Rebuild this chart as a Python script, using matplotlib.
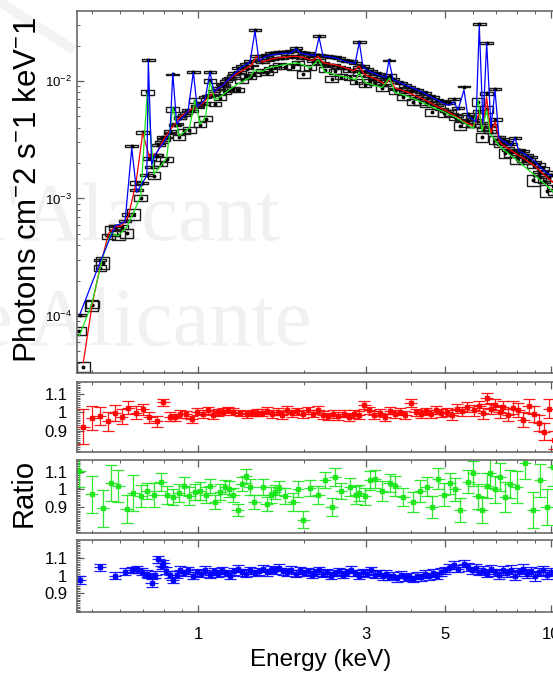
#!/usr/bin/env python3
"""Unfolded spectrum (three instruments) with model curves, plus data/model ratio panels."""
import numpy as np
import matplotlib
matplotlib.use("Agg")
import matplotlib.pyplot as plt
from matplotlib.patches import Rectangle
from matplotlib.collections import PatchCollection
from matplotlib.lines import Line2D
from matplotlib.ticker import FixedLocator, LogLocator, MultipleLocator, NullFormatter

# ---- red spectrum: energy (keV), model flux, data/model ratio, ratio error ----
E_red = [0.473, 0.502, 0.528, 0.557, 0.582, 0.608, 0.635, 0.667, 0.697, 0.728,
         0.764, 0.798, 0.833, 0.861, 0.889, 0.925, 0.960, 0.995, 1.035, 1.069,
         1.101, 1.142, 1.179, 1.218, 1.259, 1.315, 1.374, 1.419, 1.466, 1.52,
         1.57, 1.62, 1.68, 1.73, 1.79, 1.85, 1.91, 1.98, 2.05, 2.12,
         2.19, 2.26, 2.34, 2.42, 2.50, 2.59, 2.68, 2.77, 2.86, 2.96,
         3.06, 3.16, 3.27, 3.38, 3.50, 3.62, 3.74, 3.87, 4.00, 4.14,
         4.28, 4.42, 4.57, 4.73, 4.89, 5.06, 5.23, 5.41, 5.59, 5.78,
         6.05, 6.27, 6.42, 6.57, 6.75, 6.95, 7.15, 7.31, 7.56, 7.82,
         8.09, 8.36, 8.65, 8.94, 9.25, 9.56, 9.89, 10.2, 10.6]
M_red = [4.0e-5, 1.29e-4, 2.62e-4, 5.0e-4, 5.72e-4, 5.84e-4, 7.1e-4, 1.35e-3, 3.61e-3, 2.26e-3,
         2.44e-3, 3.15e-3, 3.83e-3, 4.30e-3, 4.94e-3, 5.35e-3, 5.77e-3, 6.01e-3, 6.5e-3, 7.31e-3,
         7.75e-3, 8.63e-3, 9.25e-3, 1.02e-2, 1.10e-2, 1.19e-2, 1.29e-2, 1.36e-2, 1.63e-2, 1.45e-2,
         1.49e-2, 1.54e-2, 1.57e-2, 1.59e-2, 1.60e-2, 1.62e-2, 1.62e-2, 1.59e-2, 1.54e-2, 1.49e-2,
         1.63e-2, 1.43e-2, 1.40e-2, 1.38e-2, 1.35e-2, 1.31e-2, 1.26e-2, 1.22e-2, 1.34e-2, 1.14e-2,
         1.09e-2, 1.05e-2, 1.00e-2, 9.43e-3, 1.02e-2, 8.69e-3, 8.45e-3, 8.13e-3, 7.83e-3, 7.45e-3,
         7.17e-3, 6.82e-3, 6.50e-3, 6.13e-3, 5.84e-3, 5.56e-3, 5.25e-3, 4.94e-3, 4.62e-3, 4.39e-3,
         4.14e-3, 5.35e-3, 3.90e-3, 7.31e-3, 3.61e-3, 4.5e-3, 3.03e-3, 2.85e-3, 2.67e-3, 2.49e-3,
         2.33e-3, 2.20e-3, 2.04e-3, 1.91e-3, 1.75e-3, 1.59e-3, 1.46e-3, 1.35e-3, 1.25e-3]
R_red = [0.921, 0.967, 0.98, 0.95, 0.995, 0.976, 1.025, 0.998, 1.016, 0.973,
         0.95, 1.055, 0.976, 0.973, 0.99, 0.989, 0.962, 1.003, 0.99, 1.01,
         0.985, 1.0, 1.003, 1.013, 1.003, 0.995, 0.989, 0.995, 0.998, 0.998,
         1.008, 0.99, 1.004, 0.985, 1.012, 0.995, 1.006, 0.99, 1.01, 0.992,
         1.015, 0.985, 0.978, 0.99, 0.98, 0.992, 0.975, 0.99, 0.985, 1.04,
         1.01, 0.985, 0.998, 0.972, 1.008, 0.99, 1.003, 0.985, 1.05, 1.0,
         0.99, 1.006, 0.992, 1.012, 0.995, 1.004, 0.985, 1.02, 1.005, 1.03,
         1.01, 1.035, 0.995, 1.076, 1.02, 1.04, 1.0, 1.03, 0.985, 1.025,
         1.01, 0.96, 1.035, 0.99, 0.94, 0.894, 1.02, 0.85, 0.97]
S_red = [0.095, 0.065, 0.05, 0.05, 0.045, 0.04, 0.035, 0.035, 0.03, 0.03,
         0.03, 0.02, 0.025, 0.02, 0.02, 0.02, 0.02, 0.02, 0.02, 0.02,
         0.02, 0.02, 0.018, 0.018, 0.018, 0.018, 0.018, 0.018, 0.018, 0.02,
         0.02, 0.02, 0.02, 0.02, 0.02, 0.02, 0.02, 0.02, 0.02, 0.02,
         0.02, 0.02, 0.02, 0.02, 0.02, 0.02, 0.02, 0.02, 0.02, 0.02,
         0.02, 0.02, 0.02, 0.02, 0.02, 0.02, 0.02, 0.02, 0.02, 0.02,
         0.02, 0.02, 0.022, 0.022, 0.022, 0.022, 0.025, 0.025, 0.025, 0.028,
         0.028, 0.028, 0.03, 0.03, 0.03, 0.03, 0.032, 0.032, 0.035, 0.035,
         0.038, 0.04, 0.04, 0.042, 0.045, 0.045, 0.05, 0.05, 0.055]

# ---- green spectrum ----
E_green = [0.461, 0.500, 0.537, 0.567, 0.594, 0.628, 0.656, 0.688, 0.718, 0.750,
           0.784, 0.815, 0.848, 0.884, 0.913, 0.945, 0.981, 1.013, 1.051, 1.081,
           1.117, 1.154, 1.193, 1.227, 1.259, 1.296, 1.330, 1.368, 1.404, 1.444,
           1.525, 1.565, 1.607, 1.652, 1.699, 1.764, 1.862, 1.920, 1.988, 2.077,
           2.194, 2.290, 2.392, 2.444, 2.542, 2.696, 2.803, 2.858, 2.972, 3.073,
           3.173, 3.321, 3.488, 3.615, 3.816, 4.073, 4.255, 4.445, 4.592, 4.794,
           4.977, 5.176, 5.346, 5.524, 5.833, 6.026, 6.213, 6.377, 6.575, 6.718,
           6.941, 7.171, 7.409, 7.655, 7.996, 8.441, 8.911, 9.308, 9.723, 10.13]
M_green = [6.78e-5, 1.27e-4, 3.18e-4, 5.10e-4, 4.80e-4, 5.72e-4, 7.53e-4, 1.05e-3, 8.05e-3, 1.62e-3,
           1.89e-3, 2.22e-3, 6.01e-3, 3.40e-3, 3.68e-3, 3.98e-3, 6.89e-3, 4.30e-3, 4.94e-3, 9.8e-3,
           6.89e-3, 7.31e-3, 7.90e-3, 8.46e-3, 8.89e-3, 9.43e-3, 9.8e-3, 1.03e-2, 1.07e-2, 1.24e-2,
           1.20e-2, 1.28e-2, 1.30e-2, 1.33e-2, 1.35e-2, 1.38e-2, 1.42e-2, 1.42e-2, 1.37e-2, 1.29e-2,
           1.51e-2, 1.19e-2, 1.16e-2, 1.13e-2, 1.10e-2, 1.06e-2, 1.02e-2, 1.19e-2, 9.71e-3, 9.43e-3,
           9.15e-3, 8.80e-3, 1.06e-2, 7.98e-3, 7.60e-3, 7.10e-3, 6.68e-3, 6.30e-3, 6.01e-3, 5.72e-3,
           5.45e-3, 5.14e-3, 4.94e-3, 4.66e-3, 4.18e-3, 3.94e-3, 6.89e-3, 3.76e-3, 5.66e-3, 3.55e-3,
           3.15e-3, 2.76e-3, 2.54e-3, 2.35e-3, 2.13e-3, 1.85e-3, 1.62e-3, 1.44e-3, 1.29e-3, 1.14e-3]
R_green = [1.103, 0.972, 0.893, 1.037, 1.019, 0.888, 0.978, 0.962, 0.992, 0.968,
           1.043, 0.97, 0.958, 0.978, 1.019, 0.962, 0.987, 0.989, 0.97, 1.02,
           0.93, 0.987, 1.015, 1.0, 0.966, 0.884, 1.03, 1.076, 1.011, 0.93,
           1.015, 0.917, 0.968, 0.987, 1.006, 0.96, 0.93, 1.0, 0.83, 1.006,
           0.97, 1.05, 0.9, 1.07, 0.99, 1.015, 0.97, 0.98, 0.96, 1.05,
           1.06, 0.99, 1.034, 1.02, 0.958, 0.93, 0.99, 1.015, 0.9, 1.06,
           0.97, 1.034, 1.0, 0.884, 1.043, 1.09, 0.96, 0.884, 1.02, 1.09,
           1.0, 1.07, 0.958, 1.03, 1.015, 1.146, 0.884, 1.05, 0.9, 1.127]
S_green = [0.09, 0.105, 0.105, 0.1, 0.09, 0.08, 0.1, 0.06, 0.045, 0.065,
           0.05, 0.05, 0.045, 0.05, 0.05, 0.05, 0.045, 0.05, 0.045, 0.04,
           0.04, 0.045, 0.04, 0.045, 0.04, 0.035, 0.04, 0.04, 0.045, 0.04,
           0.045, 0.04, 0.045, 0.04, 0.04, 0.045, 0.05, 0.045, 0.05, 0.045,
           0.05, 0.045, 0.05, 0.05, 0.045, 0.05, 0.05, 0.045, 0.05, 0.055,
           0.05, 0.055, 0.05, 0.055, 0.05, 0.055, 0.06, 0.055, 0.06, 0.06,
           0.065, 0.06, 0.065, 0.07, 0.065, 0.07, 0.07, 0.075, 0.07, 0.08,
           0.075, 0.08, 0.085, 0.08, 0.09, 0.09, 0.1, 0.095, 0.1, 0.11]

# ---- blue spectrum ----
E_blue = [0.463, 0.528, 0.582, 0.621, 0.649, 0.670, 0.693, 0.716, 0.723, 0.739,
          0.756, 0.772, 0.789, 0.797, 0.811, 0.833, 0.848, 0.870, 0.889, 0.913,
          0.937, 0.970, 0.994, 1.020, 1.047, 1.081, 1.110, 1.139, 1.170, 1.200,
          1.232, 1.265, 1.298, 1.332, 1.368, 1.404, 1.450, 1.488, 1.528, 1.568,
          1.610, 1.652, 1.696, 1.741, 1.787, 1.834, 1.895, 1.945, 1.997, 2.049,
          2.103, 2.145, 2.202, 2.260, 2.320, 2.381, 2.444, 2.509, 2.575, 2.643,
          2.713, 2.785, 2.864, 2.934, 3.011, 3.091, 3.173, 3.256, 3.343, 3.409,
          3.476, 3.568, 3.662, 3.759, 3.858, 3.960, 4.065, 4.172, 4.282, 4.396,
          4.512, 4.631, 4.753, 4.879, 5.008, 5.140, 5.311, 5.452, 5.669, 5.819,
          5.973, 6.131, 6.265, 6.418, 6.575, 6.761, 6.941, 7.124, 7.312, 7.506,
          7.704, 7.907, 8.116, 8.331, 8.551, 8.777, 9.009, 9.247, 9.491, 9.743,
          10.0]
M_blue = [1.04e-4, 2.88e-4, 5.84e-4, 6.31e-4, 2.69e-3, 1.13e-3, 1.33e-3, 1.56e-3, 1.51e-2, 1.93e-3,
          2.35e-3, 2.59e-3, 2.85e-3, 2.96e-3, 3.21e-3, 3.61e-3, 1.165e-2, 4.30e-3, 4.66e-3, 5.04e-3,
          5.55e-3, 1.19e-2, 6.01e-3, 6.44e-3, 7.03e-3, 1.19e-2, 8.05e-3, 8.63e-3, 9.07e-3, 9.8e-3,
          1.06e-2, 1.14e-2, 1.24e-2, 1.32e-2, 1.38e-2, 1.45e-2, 2.67e-2, 1.48e-2, 1.56e-2, 1.63e-2,
          1.66e-2, 1.68e-2, 1.70e-2, 1.72e-2, 1.73e-2, 1.73e-2, 1.88e-2, 1.73e-2, 1.70e-2, 1.68e-2,
          1.66e-2, 1.64e-2, 2.36e-2, 1.63e-2, 1.61e-2, 1.60e-2, 1.57e-2, 1.54e-2, 1.49e-2, 1.45e-2,
          1.43e-2, 1.40e-2, 2.14e-2, 1.32e-2, 1.24e-2, 1.19e-2, 1.16e-2, 1.12e-2, 1.09e-2, 1.07e-2,
          1.51e-2, 1.03e-2, 9.9e-3, 9.6e-3, 9.25e-3, 8.97e-3, 8.70e-3, 8.38e-3, 8.13e-3, 7.83e-3,
          7.46e-3, 7.17e-3, 6.89e-3, 6.63e-3, 6.37e-3, 6.19e-3, 6.63e-3, 5.66e-3, 8.38e-3, 4.97e-3,
          4.76e-3, 4.47e-3, 2.99e-2, 4.26e-3, 2.10e-2, 4.02e-3, 8.38e-3, 3.27e-3, 3.11e-3, 2.96e-3,
          2.80e-3, 3.27e-3, 2.53e-3, 2.44e-3, 2.30e-3, 2.20e-3, 2.05e-3, 1.91e-3, 1.75e-3, 1.65e-3,
          1.56e-3]
R_blue = [0.975, 1.049, 0.998, 1.023, 1.033, 1.037, 1.023, 1.01, 1.0, 0.956,
          1.004, 1.095, 1.056, 1.072, 1.029, 1.004, 0.975, 1.004, 1.033, 1.015,
          1.03, 1.0, 1.02, 1.01, 1.035, 1.005, 1.025, 1.01, 1.03, 1.015,
          1.0, 1.025, 1.04, 1.02, 1.01, 1.03, 1.015, 1.025, 1.04, 1.02,
          1.035, 1.03, 1.045, 1.025, 1.02, 1.035, 1.01, 1.03, 1.015, 1.025,
          1.005, 1.02, 1.03, 1.01, 1.02, 1.0, 1.015, 1.025, 1.005, 1.02,
          1.035, 1.015, 1.0, 1.02, 1.01, 1.03, 1.005, 1.015, 0.995, 1.01,
          0.99, 1.0, 0.985, 1.005, 0.99, 0.995, 0.98, 1.0, 0.99, 1.01,
          0.995, 1.015, 1.0, 1.02, 1.03, 1.045, 1.06, 1.04, 1.07, 1.05,
          1.03, 1.045, 1.02, 1.035, 1.01, 1.04, 1.02, 1.005, 1.03, 1.015,
          1.035, 1.0, 1.02, 1.04, 1.01, 1.025, 0.995, 1.02, 1.03, 1.005,
          1.02]
S_blue = [0.022, 0.02, 0.02, 0.02, 0.018, 0.02, 0.02, 0.02, 0.015, 0.022,
          0.02, 0.02, 0.02, 0.02, 0.02, 0.02, 0.018, 0.02, 0.02, 0.02,
          0.02, 0.018, 0.02, 0.02, 0.02, 0.018, 0.02, 0.02, 0.02, 0.02,
          0.02, 0.02, 0.02, 0.02, 0.02, 0.02, 0.018, 0.02, 0.02, 0.02,
          0.02, 0.02, 0.02, 0.02, 0.02, 0.02, 0.02, 0.02, 0.02, 0.02,
          0.02, 0.02, 0.018, 0.02, 0.02, 0.02, 0.02, 0.02, 0.02, 0.02,
          0.02, 0.02, 0.018, 0.02, 0.02, 0.02, 0.02, 0.02, 0.02, 0.02,
          0.018, 0.02, 0.02, 0.02, 0.02, 0.02, 0.02, 0.022, 0.022, 0.022,
          0.022, 0.022, 0.022, 0.022, 0.022, 0.022, 0.022, 0.022, 0.02, 0.022,
          0.022, 0.022, 0.015, 0.022, 0.018, 0.022, 0.02, 0.025, 0.025, 0.025,
          0.025, 0.025, 0.025, 0.025, 0.025, 0.025, 0.025, 0.025, 0.025, 0.025,
          0.025]

RED, GREEN, BLUE = "#ff0000", "#19e619", "#0000ff"
SPINE = "#5c5c5c"
HALF_DEX = 0.018           # half bin width, in decades of energy
E_LIM = (0.454, 10.96)

plt.rcParams["font.family"] = "Liberation Sans"
plt.rcParams["mathtext.fontset"] = "custom"
plt.rcParams["mathtext.rm"] = "Liberation Sans"
plt.rcParams["mathtext.it"] = "Liberation Sans:italic"
plt.rcParams["mathtext.bf"] = "Liberation Sans:bold"

W, H = 553, 673
fig = plt.figure(figsize=(W / 100, H / 100), dpi=100)


def frame(left, top, right, bottom):
    """axes from a pixel box (origin top-left)"""
    a = fig.add_axes([left / W, 1 - bottom / H, (right - left) / W, (bottom - top) / H])
    a.patch.set_visible(False)
    for s in a.spines.values():
        s.set_color(SPINE)
        s.set_linewidth(1.1)
    a.set_xscale("log")
    a.set_xlim(*E_LIM)
    a.xaxis.set_major_locator(FixedLocator([1, 3, 5, 10]))
    a.xaxis.set_minor_locator(LogLocator(base=10, subs=np.arange(2, 10)))
    a.xaxis.set_minor_formatter(NullFormatter())
    a.tick_params(which="both", direction="in", top=True, right=False, color=SPINE,
                  labelbottom=False)
    a.tick_params(which="major", length=5, width=0.9)
    a.tick_params(which="minor", length=2.5, width=0.7)
    return a


ax = frame(77, 11, 565, 373)
ax_r = frame(77, 381.7, 565, 452)
ax_g = frame(77, 460, 565, 532.7)
ax_b = frame(77, 540, 565, 611.7)

# faint watermark behind everything
wm = dict(family="Liberation Serif", color="#f1f1f1", fontsize=60, zorder=-5,
          va="baseline", ha="right")
fig.text(280 / W, 1 - 240 / H, "d'Alacant", **wm)
fig.text(311 / W, 1 - 345 / H, "de Alicante", **wm)
fig.add_artist(Line2D([0, 74 / W], [1 - 2 / H, 1 - 50 / H], lw=7, color="#f3f3f3",
                      solid_capstyle="butt", zorder=-5))

spectra = [(E_red, M_red, R_red, S_red, RED),
           (E_green, M_green, R_green, S_green, GREEN),
           (E_blue, M_blue, R_blue, S_blue, BLUE)]

# --- top panel: unfolded data (boxes) and model curves ---
ax.set_yscale("log")
ax.set_ylim(3.27e-5, 0.0394)
ax.yaxis.set_minor_formatter(NullFormatter())
ax.tick_params(axis="y", which="both", labelsize=9.5, pad=3.5)
for e, m, r, s, c in spectra:
    e, m, r, s = map(np.asarray, (e, m, r, s))
    lo, hi = e / 10 ** HALF_DEX, e * 10 ** HALF_DEX
    rects = [Rectangle((l, mm * (rr - ss)), h - l, 2 * mm * ss)
             for l, h, mm, rr, ss in zip(lo, hi, m, r, s)]
    ax.add_collection(PatchCollection(rects, facecolor="none", edgecolor="#1c1c1c",
                                      linewidth=1.0, zorder=2))
    ax.plot(e, m * r, "o", ms=1.8, color="k", zorder=3)
for e, m, r, s, c in spectra:
    ax.plot(e, m, "-", color=c, lw=0.9, zorder=4)

# --- ratio panels ---
for a, (e, m, r, s, c), lim in zip((ax_r, ax_g, ax_b), spectra,
                                   ((0.783, 1.167), (0.756, 1.165), (0.79, 1.207))):
    e = np.asarray(e)
    xerr = [e - e / 10 ** HALF_DEX, e * 10 ** HALF_DEX - e]
    a.errorbar(e, r, xerr=xerr, fmt="none", ecolor=c, elinewidth=0.9, alpha=0.9)
    a.errorbar(e, r, yerr=s, fmt="s", ms=2.2, color=c, ecolor=c, elinewidth=0.9,
               capsize=4.2, capthick=0.9, alpha=0.9)
    a.set_ylim(*lim)
    a.set_yticks([0.9, 1.0, 1.1], labels=["0.9", "1", "1.1"])
    a.yaxis.set_minor_locator(MultipleLocator(0.01))
    a.tick_params(axis="y", which="both", labelsize=12, pad=7)
    a.tick_params(axis="y", which="minor", length=2)

ax_b.tick_params(axis="x", which="major", labelbottom=True, labelsize=12, pad=11)
ax_b.set_xticklabels(["1", "3", "5", "10"])

fig.text(28 / W, 1 - 190 / H, "Photons cm$^{-}$2 s$^{-}$1 keV$^{-}$1", rotation=90,
         ha="center", va="center", fontsize=22.5)
fig.text(24 / W, 1 - 493 / H, "Ratio", rotation=90, ha="center", va="center", fontsize=21)
fig.text(321 / W, 1 - 660 / H, "Energy (keV)", ha="center", va="center", fontsize=17.5)

fig.savefig("out.png", dpi=100)
